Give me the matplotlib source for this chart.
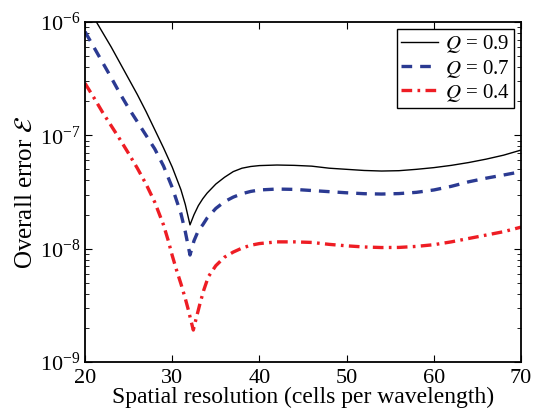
import matplotlib
matplotlib.use("Agg")
import matplotlib.pyplot as plt
import numpy as np

plt.rcParams['font.family'] = ['Liberation Serif', 'DejaVu Serif']
plt.rcParams['mathtext.fontset'] = 'stix'

# log10 of overall error
x_q09 = [20, 21, 22, 23, 24, 25, 26, 27, 28, 29, 30, 31, 31.5, 32.04, 32.5, 33, 33.5, 34, 35, 36, 37, 38, 39,
         40, 42, 44, 46, 48, 50, 52, 54, 56, 58, 60, 62, 64, 66, 68, 70]
lg_q09 = [-5.83, -5.96, -6.09, -6.22, -6.36, -6.50, -6.64, -6.79, -6.95, -7.11, -7.28, -7.48, -7.61, -7.79,
          -7.70, -7.62, -7.56, -7.51, -7.43, -7.37, -7.32, -7.29, -7.275,
          -7.267, -7.262, -7.265, -7.272, -7.29, -7.30, -7.31, -7.315, -7.312, -7.30, -7.285, -7.265, -7.24,
          -7.21, -7.175, -7.13]

x_q07 = [20, 21, 22, 23, 24, 25, 26, 27, 28, 29, 30, 31, 31.5, 32.04, 32.5, 33, 33.5, 34, 35, 36, 37, 38, 39,
         40, 42, 44, 46, 48, 50, 52, 54, 56, 58, 60, 62, 64, 66, 68, 70]
lg_q07 = [-6.085, -6.22, -6.355, -6.49, -6.63, -6.76, -6.88, -7.00, -7.12, -7.27, -7.46, -7.69, -7.85, -8.056,
          -7.93, -7.84, -7.79, -7.73, -7.645, -7.585, -7.545, -7.515, -7.495,
          -7.482, -7.474, -7.477, -7.487, -7.497, -7.507, -7.515, -7.518, -7.514, -7.503, -7.482, -7.45, -7.41,
          -7.378, -7.35, -7.321]

x_q04 = [20, 21, 22, 23, 24, 25, 26, 27, 28, 29, 29.55, 30, 30.5, 31, 31.5, 31.85, 32.1, 32.42, 32.7, 33.19,
         33.6, 34.14, 35, 36, 37, 38, 39, 40, 42, 44, 46, 48, 50, 52, 54, 56, 58, 60, 62, 64, 66, 68, 70]
lg_q04 = [-6.541, -6.665, -6.795, -6.915, -7.035, -7.16, -7.29, -7.43, -7.59, -7.79, -7.93, -8.06, -8.19, -8.31,
          -8.44, -8.54, -8.62, -8.718, -8.63, -8.483, -8.37, -8.248, -8.15, -8.075, -8.03, -7.995, -7.97,
          -7.955, -7.94, -7.94, -7.945, -7.962, -7.975, -7.985, -7.99, -7.989, -7.98, -7.965, -7.94, -7.91,
          -7.88, -7.85, -7.81]

labels = [r'$Q$ = 0.9', r'$Q$ = 0.7', r'$Q$ = 0.4']
xticks = [20, 30, 40, 50, 60, 70]

fig = plt.figure(figsize=(5.39, 4.15), dpi=100)
ax = fig.add_axes([0.1577, 0.1277, 0.809, 0.8193])

ax.semilogy(x_q09, np.power(10.0, lg_q09), color='black', lw=1.0, label=labels[0])
ax.semilogy(x_q07, np.power(10.0, lg_q07), color='#2B3A92', lw=2.4, dashes=(3.2, 2.4), label=labels[1])
ax.semilogy(x_q04, np.power(10.0, lg_q04), color='#EE1D24', lw=2.4, dashes=(3.2, 1.6, 0.8, 1.6), label=labels[2])

ax.set_xlim(20, 70)
ax.set_ylim(1e-9, 1e-6)
ax.set_xticks(xticks)
ax.tick_params(which='both', direction='in', top=True, right=True, labelsize=16)
ax.tick_params(which='major', length=5)
ax.tick_params(which='minor', length=3)
ax.tick_params(axis='x', which='major', pad=5)
for s in ax.spines.values():
    s.set_linewidth(1.3)

ax.set_xlabel('Spatial resolution (cells per wavelength)', fontsize=17, labelpad=-1)
ax.set_ylabel(r'Overall error $\mathcal{E}$', fontsize=18, labelpad=2)

leg = ax.legend(loc='upper right', fontsize=15, frameon=True, fancybox=False,
                edgecolor='black', framealpha=1, handlelength=1.8, borderpad=0.2,
                labelspacing=0.1, handletextpad=0.3, borderaxespad=0.35)
leg.get_frame().set_linewidth(1.0)

fig.savefig('out.png', dpi=100)
